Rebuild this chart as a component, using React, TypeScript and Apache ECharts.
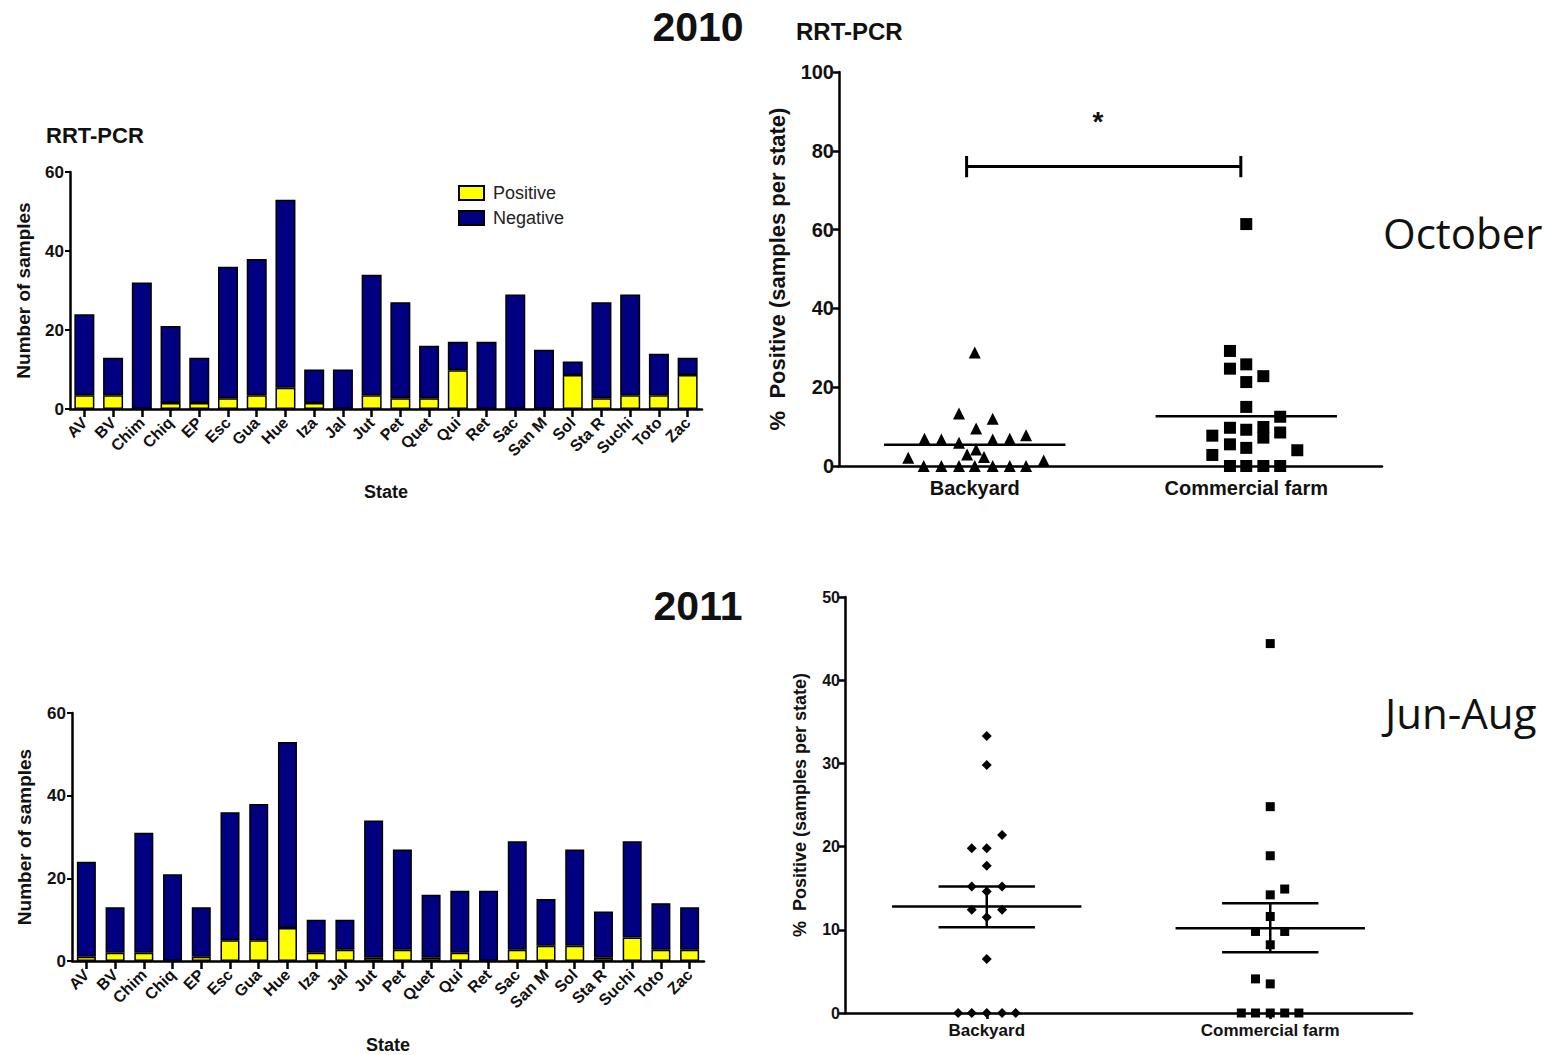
import React, { useEffect, useRef } from "react";
import * as echarts from "echarts";

const FONT = "'Liberation Sans', Arial, sans-serif";
const NAVY = "#000080";
const YELLOW = "#FFFF00";

// Bar charts
const states = ["AV", "BV", "Chim", "Chiq", "EP", "Esc", "Gua", "Hue", "Iza", "Jal", "Jut", "Pet", "Quet", "Qui", "Ret", "Sac", "San M", "Sol", "Sta R", "Suchi", "Toto", "Zac"];
const total2010 = [24, 13, 32, 21, 13, 36, 38, 53, 10, 10, 34, 27, 16, 17, 17, 29, 15, 12, 27, 29, 14, 13];
const positive2010 = [3.5, 3.5, 0, 1.5, 1.5, 2.7, 3.5, 5.4, 1.5, 0, 3.5, 2.7, 2.7, 9.8, 0, 0, 0, 8.6, 2.7, 3.5, 3.5, 8.6];
const total2011 = [24, 13, 31, 21, 13, 36, 38, 53, 10, 10, 34, 27, 16, 17, 17, 29, 15, 27, 12, 29, 14, 13];
const positive2011 = [1, 2, 2, 0, 1, 5, 5, 8, 2, 2.7, 0.8, 2.7, 0.8, 2, 0, 2.7, 3.7, 3.7, 0.8, 5.7, 2.7, 2.7];
const barTicks = [0, 20, 40, 60];

// Scatter charts: groups
const groups = ["Backyard", "Commercial farm"];

// 2010 October, Backyard (jitter offset within category, % positive)
const backyard2010Jitter = [0, -0.058, 0.066, 0.005, -0.185, -0.123, -0.058, 0.066, 0.129, 0.189, 0.005, -0.028, 0.034, -0.245, 0.254, -0.188, -0.123, -0.058, 0, 0.066, 0.129, 0.189];
const backyard2010Values = [28.8, 13.3, 12.0, 9.5, 6.9, 6.7, 5.9, 6.7, 6.9, 7.8, 4.2, 2.9, 2.3, 2.1, 1.4, 0, 0, 0, 0, 0, 0, 0];
// 2010 October, Commercial farm
const commercial2010Jitter = [0, -0.06, -0.06, 0, 0.063, 0, 0, 0.125, -0.125, -0.06, 0, 0.063, 0.063, 0.125, -0.06, 0, -0.125, 0.188, -0.06, 0, 0.063, 0.125];
const commercial2010Values = [61.4, 29.2, 24.7, 25.8, 22.8, 21.3, 15.0, 12.5, 7.7, 9.7, 9.2, 9.9, 7.2, 8.5, 5.5, 4.6, 2.8, 4.0, 0, 0, 0, 0];
const mean2010 = [5.4, 12.6];
const bracket2010 = { from: -0.03, to: 0.98, level: 76, capLow: 73.3, capHigh: 78.7 };

// 2011 Jun-Aug, Backyard
const backyard2011Jitter = [0, 0, 0.054, -0.053, 0, 0, -0.053, 0.054, 0, -0.053, 0.054, 0, 0, -0.101, -0.053, 0, 0.054, 0.102];
const backyard2011Values = [33.3, 29.8, 21.4, 19.8, 19.8, 17.7, 15.2, 15.2, 14.6, 12.4, 12.4, 11.5, 6.5, 0, 0, 0, 0, 0];
// 2011 Jun-Aug, Commercial farm
const commercial2011Jitter = [0, 0, 0, 0.051, 0, 0, -0.052, 0.051, 0, -0.052, 0, -0.102, -0.052, 0, 0.051, 0.101];
const commercial2011Values = [44.4, 24.8, 18.9, 14.9, 14.2, 11.6, 9.8, 9.8, 8.2, 4.1, 3.5, 0, 0, 0, 0, 0];
const mean2011 = [12.8, 10.2];
const semHigh2011 = [15.2, 13.2];
const semLow2011 = [10.3, 7.3];

const MEAN_HALF = 0.334;
const SEM_HALF = 0.17;

function barXAxis(gridIndex: number, nameGap: number) {
  return {
    type: "category",
    gridIndex,
    data: states,
    axisLine: { show: true, lineStyle: { color: "#000", width: 2.5 } },
    axisTick: { show: true, alignWithLabel: true, length: 8, lineStyle: { color: "#000", width: 2.5 } },
    axisLabel: { interval: 0, rotate: 45, margin: 11, fontSize: 16, fontWeight: "bold", color: "#111", fontFamily: FONT },
    name: "State",
    nameLocation: "middle",
    nameGap,
    nameTextStyle: { fontSize: 18, fontWeight: "bold", color: "#111", fontFamily: FONT },
  };
}

function barYAxis(gridIndex: number, nameGap: number) {
  return {
    type: "value",
    gridIndex,
    min: 0,
    max: 60,
    interval: 20,
    splitLine: { show: false },
    axisLine: { show: true, onZero: false, lineStyle: { color: "#000", width: 2.5 } },
    axisTick: { show: true, length: 5, lineStyle: { color: "#000", width: 2 } },
    axisLabel: { margin: 6, fontSize: 17, fontWeight: "bold", color: "#111", fontFamily: FONT, customValues: barTicks },
    name: "Number of samples",
    nameLocation: "middle",
    nameGap,
    nameRotate: 90,
    nameTextStyle: { fontSize: 19, fontWeight: "bold", color: "#111", fontFamily: FONT },
  };
}

function scatterXAxis(gridIndex: number, fontSize: number, margin: number) {
  return {
    type: "value",
    gridIndex,
    min: -0.5,
    max: 1.5,
    interval: 0.5,
    splitLine: { show: false },
    axisLine: { show: true, onZero: false, lineStyle: { color: "#000", width: 2.5 } },
    axisTick: { show: true, customValues: [0, 1], length: 6, lineStyle: { color: "#000", width: 2.5 } },
    axisLabel: {
      customValues: [0, 1],
      formatter: (v: number) => groups[Math.round(v)] ?? "",
      margin,
      fontSize,
      fontWeight: "bold",
      color: "#111",
      fontFamily: FONT,
    },
  };
}

function scatterYAxis(gridIndex: number, max: number, interval: number, fontSize: number, nameSize: number, nameGap: number) {
  return {
    type: "value",
    gridIndex,
    min: 0,
    max,
    interval,
    splitLine: { show: false },
    axisLine: { show: true, onZero: false, lineStyle: { color: "#000", width: 2.5 } },
    axisTick: { show: true, length: 6, lineStyle: { color: "#000", width: 2.5 } },
    axisLabel: { margin: 5, fontSize, fontWeight: "bold", color: "#111", fontFamily: FONT },
    name: "%  Positive (samples per state)",
    nameLocation: "middle",
    nameGap,
    nameRotate: 90,
    nameTextStyle: { fontSize: nameSize, fontWeight: "bold", color: "#111", fontFamily: FONT },
  };
}

function seg(idx: number, pts: number[][], width = 2.5) {
  return {
    type: "line",
    xAxisIndex: idx,
    yAxisIndex: idx,
    data: pts,
    symbol: "none",
    silent: true,
    lineStyle: { color: "#000", width },
    z: 3,
  };
}

function points(idx: number, center: number, jitter: number[], values: number[], symbol: string, size: number) {
  return {
    type: "scatter",
    xAxisIndex: idx,
    yAxisIndex: idx,
    data: values.map((v, i) => [center + jitter[i], v]),
    symbol,
    symbolSize: size,
    itemStyle: { color: "#000", opacity: 1 },
    z: 4,
  };
}

function buildOption() {
  const negative2010 = total2010.map((t, i) => t - positive2010[i]);
  const negative2011 = total2011.map((t, i) => t - positive2011[i]);
  const barStyle = (c: string) => ({ color: c, borderColor: "#000", borderWidth: 1.5 });

  const series: any[] = [
    { type: "bar", name: "Positive", xAxisIndex: 0, yAxisIndex: 0, stack: "a", data: positive2010, barWidth: 20, itemStyle: barStyle(YELLOW) },
    { type: "bar", name: "Negative", xAxisIndex: 0, yAxisIndex: 0, stack: "a", data: negative2010, barWidth: 20, itemStyle: barStyle(NAVY) },
    { type: "bar", name: "Positive", xAxisIndex: 2, yAxisIndex: 2, stack: "b", data: positive2011, barWidth: 19, itemStyle: barStyle(YELLOW) },
    { type: "bar", name: "Negative", xAxisIndex: 2, yAxisIndex: 2, stack: "b", data: negative2011, barWidth: 19, itemStyle: barStyle(NAVY) },
    points(1, 0, backyard2010Jitter, backyard2010Values, "triangle", 12),
    points(1, 1, commercial2010Jitter, commercial2010Values, "rect", 12),
    points(3, 0, backyard2011Jitter, backyard2011Values, "diamond", 10),
    points(3, 1, commercial2011Jitter, commercial2011Values, "rect", 9),
  ];

  mean2010.forEach((m, g) => series.push(seg(1, [[g - MEAN_HALF, m], [g + MEAN_HALF, m]])));
  series.push(seg(1, [[bracket2010.from, bracket2010.level], [bracket2010.to, bracket2010.level]], 3));
  series.push(seg(1, [[bracket2010.from, bracket2010.capLow], [bracket2010.from, bracket2010.capHigh]], 3));
  series.push(seg(1, [[bracket2010.to, bracket2010.capLow], [bracket2010.to, bracket2010.capHigh]], 3));

  mean2011.forEach((m, g) => {
    series.push(seg(3, [[g - MEAN_HALF, m], [g + MEAN_HALF, m]]));
    series.push(seg(3, [[g - SEM_HALF, semHigh2011[g]], [g + SEM_HALF, semHigh2011[g]]]));
    series.push(seg(3, [[g - SEM_HALF, semLow2011[g]], [g + SEM_HALF, semLow2011[g]]]));
    series.push(seg(3, [[g, semLow2011[g]], [g, semHigh2011[g]]]));
  });

  const txt = (x: number, y: number, text: string, font: string, align = "left") => ({
    type: "text",
    x,
    y,
    style: { text, font, fill: "#111", align, verticalAlign: "middle" },
  });

  return {
    animation: false,
    backgroundColor: "#fff",
    textStyle: { fontFamily: FONT },
    grid: [
      { left: 70, top: 172, width: 632, height: 237 },
      { left: 839, top: 72, width: 543, height: 394 },
      { left: 72, top: 713, width: 632, height: 249 },
      { left: 845, top: 597, width: 567, height: 416 },
    ],
    xAxis: [barXAxis(0, 74), scatterXAxis(1, 20, 12), barXAxis(2, 75), scatterXAxis(3, 17, 9)],
    yAxis: [barYAxis(0, 37), scatterYAxis(1, 100, 20, 20, 22, 51), barYAxis(2, 38), scatterYAxis(3, 50, 10, 16, 18, 36)],
    legend: {
      data: ["Positive", "Negative"],
      left: 453,
      top: 179,
      orient: "vertical",
      icon: "rect",
      itemWidth: 25,
      itemHeight: 14,
      itemGap: 7,
      textStyle: { fontSize: 18, color: "#222", fontFamily: FONT, padding: [0, 0, 0, 4] },
    },
    graphic: [
      txt(698, 27, "2010", `bold 41px ${FONT}`, "center"),
      txt(796, 31, "RRT-PCR", `bold 24px ${FONT}`),
      txt(46, 135, "RRT-PCR", `bold 22px ${FONT}`),
      txt(698, 606, "2011", `bold 41px ${FONT}`, "center"),
      txt(1383, 232, "October", `42px 'Open Sans', 'Noto Sans', sans-serif`),
      txt(1385, 712, "Jun-Aug", `42px 'Open Sans', 'Noto Sans', sans-serif`),
      txt(1098, 121, "*", `bold 28px ${FONT}`, "center"),
    ],
    series,
  };
}

export default function App() {
  const ref = useRef<HTMLDivElement>(null);
  useEffect(() => {
    document.body.style.margin = "0";
    if (!ref.current) return;
    const chart = echarts.init(ref.current, undefined, { renderer: "svg" });
    chart.setOption(buildOption() as any);
    return () => chart.dispose();
  }, []);
  return <div ref={ref} style={{ width: 1553, height: 1055, background: "#fff" }} />;
}
